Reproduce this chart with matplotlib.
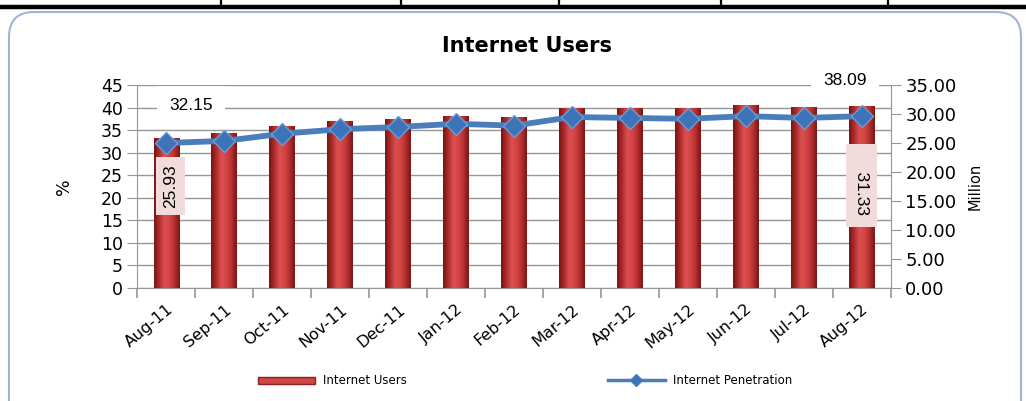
import numpy as np
import matplotlib.pyplot as plt
from matplotlib.colors import LinearSegmentedColormap
from matplotlib.patches import FancyBboxPatch, Patch
from matplotlib.lines import Line2D

months = ['Aug-11', 'Sep-11', 'Oct-11', 'Nov-11', 'Dec-11', 'Jan-12', 'Feb-12',
          'Mar-12', 'Apr-12', 'May-12', 'Jun-12', 'Jul-12', 'Aug-12']
users_million = [25.93, 26.7, 27.9, 28.8, 29.1, 29.6, 29.5,
                 31.0, 31.0, 31.0, 31.5, 31.2, 31.33]
penetration_pct = [32.15, 32.6, 34.2, 35.2, 35.7, 36.4, 36.0,
                   37.9, 37.7, 37.5, 38.1, 37.7, 38.09]
pct_ticks = np.arange(0, 46, 5)
million_ticks = np.arange(0, 36, 5)

grey = '#969696'
blue = '#4a7ebb'

fig = plt.figure(figsize=(10.26, 4.01), dpi=100)

# page decoration: table edge above and rounded chart frame
fig.add_artist(Line2D([0, 10.26], [3.94, 3.94], color='black', lw=3.2,
                      transform=fig.dpi_scale_trans))
for xx in [2.21, 4.01, 5.59, 7.21, 8.88]:
    fig.add_artist(Line2D([xx, xx], [3.94, 4.05], color='black', lw=1.6,
                          transform=fig.dpi_scale_trans))
fig.add_artist(FancyBboxPatch((0.09, -0.5), 10.12, 4.39,
                              boxstyle='round,pad=0,rounding_size=0.25',
                              transform=fig.dpi_scale_trans,
                              fc='none', ec='#9fb4d6', lw=1.5))

ax = fig.add_axes([0.1338, 0.2818, 0.7343, 0.5062])
x = np.arange(len(months))

# left axis: percent, holds the grid
ax.set_xlim(-0.5, len(months) - 0.5)
ax.set_ylim(0, 45)
ax.set_yticks(pct_ticks)
ax.yaxis.grid(True, color=grey, lw=1)
ax.set_axisbelow(True)
ax.tick_params(axis='y', colors=grey, length=7, labelcolor='black', labelsize=12.5)
ax.set_xticks(x)
ax.set_xticklabels(months, rotation=40, ha='right', rotation_mode='anchor',
                   fontsize=11.5)
ax.tick_params(axis='x', which='major', length=0, pad=10)
ax.set_xticks(np.arange(-0.5, len(months), 1), minor=True)
ax.tick_params(axis='x', which='minor', length=7, color=grey, width=1.2)
for s in ['top', 'right']:
    ax.spines[s].set_visible(False)
for s in ['left', 'bottom']:
    ax.spines[s].set_color(grey)
ax.set_ylabel('%', fontsize=12.5, labelpad=20)

# right axis: million users, bars
ax2 = ax.twinx()
ax2.set_ylim(0, 35)
ax2.set_yticks(million_ticks)
ax2.set_yticklabels(['%.2f' % v for v in million_ticks])
ax2.tick_params(axis='y', colors=grey, length=7, labelcolor='black', labelsize=13)
for s in ['top', 'left', 'bottom']:
    ax2.spines[s].set_visible(False)
ax2.spines['right'].set_color(grey)
ax2.set_ylabel('Million', fontsize=10.5, labelpad=8)

bars = ax2.bar(x, users_million, width=0.44, color='#c73a3a', lw=0, zorder=1)
red_cmap = LinearSegmentedColormap.from_list(
    'cyl', ['#761414', '#b02c2c', '#dc5050', '#d44444', '#b52f2f', '#7a1616'])
grad = np.linspace(0, 1, 64).reshape(1, -1)
for b in bars:
    im = ax2.imshow(grad, cmap=red_cmap, aspect='auto', interpolation='bicubic',
                    extent=[b.get_x(), b.get_x() + b.get_width(), 0, b.get_height()],
                    zorder=2)
    im.set_clip_path(b)
ax2.set_xlim(-0.5, len(months) - 0.5)
ax2.set_ylim(0, 35)

# third axis on top: penetration line
ax3 = ax.twinx()
ax3.set_ylim(0, 45)
ax3.axis('off')
ax3.plot(x, penetration_pct, color=blue, lw=4.2, marker='D', markersize=11,
         markerfacecolor='#3d73b8', markeredgecolor='#6b9bd6', markeredgewidth=1)
ax3.set_xlim(-0.5, len(months) - 0.5)

lab_font = ['Liberation Sans Narrow', 'Liberation Sans', 'DejaVu Sans']
ax3.annotate('%.2f' % penetration_pct[0], (x[0], penetration_pct[0]),
             xytext=(18, 27), textcoords='offset points', ha='center', va='center',
             fontsize=12.5, family=lab_font,
             bbox=dict(boxstyle='square,pad=0.7', fc='white', ec='none'))
ax3.annotate('%.2f' % penetration_pct[-1], (x[-1], penetration_pct[-1]),
             xytext=(-12, 26), textcoords='offset points', ha='center', va='center',
             fontsize=12.5, family=lab_font,
             bbox=dict(boxstyle='square,pad=0.7', fc='white', ec='none'))
ax2.annotate('%.2f' % users_million[0], (x[0], users_million[0]),
             xytext=(3, -35), textcoords='offset points', ha='center', va='center',
             rotation=90, fontsize=12.5, family=lab_font,
             bbox=dict(boxstyle='square,pad=0.4', fc='#f2dcdb', ec='none'))
ax2.annotate('    %.2f ' % users_million[-1], (x[-1], users_million[-1]),
             xytext=(0, -57), textcoords='offset points', ha='center', va='center',
             rotation=270, fontsize=12.5, family=lab_font,
             bbox=dict(boxstyle='square,pad=0.45', fc='#f2dcdb', ec='none'))

fig.text(0.514, 0.885, 'Internet Users', ha='center', va='center',
         fontsize=15, fontweight='bold')

handles = [Patch(facecolor='#d04545', edgecolor='#8a2020', lw=1),
           Line2D([], [], color=blue, lw=2.5, marker='D', markersize=6,
                  markerfacecolor='#3d73b8')]
fig.legend(handles, ['Internet Users', 'Internet Penetration'], ncol=2,
           loc='center', bbox_to_anchor=(0.512, 0.05), frameon=False,
           fontsize=8.5, handlelength=4.8, handleheight=0.6, columnspacing=17,
           handletextpad=0.7)

fig.savefig('out.png', dpi=100)
